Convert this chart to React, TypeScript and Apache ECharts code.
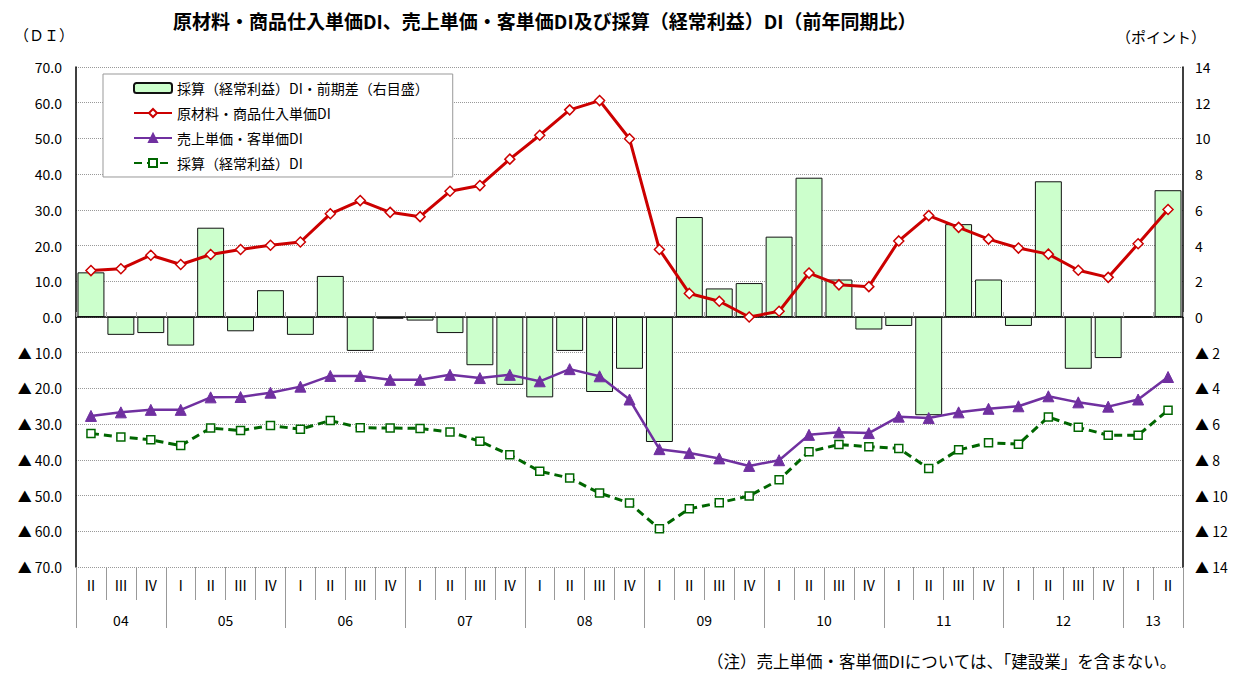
import React, { useEffect, useRef } from 'react';
import * as echarts from 'echarts';

const quarterLabels = ['Ⅱ','Ⅲ','Ⅳ','Ⅰ','Ⅱ','Ⅲ','Ⅳ','Ⅰ','Ⅱ','Ⅲ','Ⅳ','Ⅰ','Ⅱ','Ⅲ','Ⅳ','Ⅰ','Ⅱ','Ⅲ','Ⅳ','Ⅰ','Ⅱ','Ⅲ','Ⅳ','Ⅰ','Ⅱ','Ⅲ','Ⅳ','Ⅰ','Ⅱ','Ⅲ','Ⅳ','Ⅰ','Ⅱ','Ⅲ','Ⅳ','Ⅰ','Ⅱ'];
const yearLabels = ['04','05','06','07','08','09','10','11','12','13'];
const quartersPerYear = [3,4,4,4,4,4,4,4,4,2];

const rawMaterial = [13.0,13.5,17.3,14.7,17.5,18.9,20.1,21.0,28.9,32.6,29.3,28.1,35.2,36.8,44.2,50.9,58.0,60.6,49.9,18.9,6.6,4.4,0.0,1.6,12.3,9.0,8.5,21.3,28.4,25.1,21.8,19.3,17.6,13.1,11.1,20.5,30.1];
const salesPrice = [-27.7,-26.7,-26.0,-26.0,-22.5,-22.4,-21.2,-19.5,-16.5,-16.5,-17.6,-17.6,-16.2,-17.1,-16.2,-18.0,-14.6,-16.6,-23.1,-37.0,-38.1,-39.6,-41.7,-40.1,-33.0,-32.3,-32.5,-27.9,-28.3,-26.7,-25.7,-25.0,-22.2,-23.9,-25.1,-23.1,-16.8];
const profit = [-32.6,-33.6,-34.4,-36.0,-31.1,-31.8,-30.4,-31.4,-29.0,-31.0,-31.1,-31.2,-32.2,-34.8,-38.6,-43.2,-45.1,-49.3,-52.1,-59.3,-53.7,-52.0,-50.1,-45.6,-37.7,-35.7,-36.3,-36.8,-42.4,-37.2,-35.2,-35.6,-28.0,-30.9,-33.1,-33.1,-26.1];
const profitDiff = [2.5,-1.0,-0.9,-1.6,5.0,-0.8,1.5,-1.0,2.3,-1.9,-0.1,-0.2,-0.9,-2.7,-3.8,-4.5,-1.9,-4.2,-2.9,-7.0,5.6,1.6,1.9,4.5,7.8,2.1,-0.7,-0.5,-5.5,5.2,2.1,-0.5,7.6,-2.9,-2.3,0,7.1];

const seriesNames = [
  '採算（経常利益）DI・前期差（右目盛）',
  '原材料・商品仕入単価DI',
  '売上単価・客単価DI',
  '採算（経常利益）DI',
];

const FONT = "'Noto Sans CJK JP', 'Noto Sans', sans-serif";

export default function App() {
  const ref = useRef<HTMLDivElement>(null);
  useEffect(() => {
    if (!ref.current) return;
    const chart = echarts.init(ref.current, null, { renderer: 'svg' });

    const nHalf = quarterLabels.length * 2 + 1;
    const halfData: string[] = [];
    for (let i = 0; i < nHalf; i++) halfData.push('h' + i);
    const yearLabelAt: Record<number, string> = {};
    const yearBoundary = new Set<number>();
    let start = 0;
    yearLabels.forEach((y, k) => {
      const end = start + quartersPerYear[k];
      yearLabelAt[start + end] = y;
      yearBoundary.add(2 * start);
      yearBoundary.add(2 * end);
      start = end;
    });

    const fmtLeft = (v: number) => (v < 0 ? '▲ ' + Math.abs(v).toFixed(1) : v.toFixed(1));
    const fmtRight = (v: number) => (v < 0 ? '▲ ' + Math.abs(v) : String(v));

    const option: any = {
      animation: false,
      backgroundColor: '#fff',
      textStyle: { fontFamily: FONT },
      title: {
        text: '原材料・商品仕入単価DI、売上単価・客単価DI及び採算（経常利益）DI（前年同期比）',
        left: 168,
        top: 6,
        textStyle: { fontSize: 19, fontWeight: 'bold', color: '#000', fontFamily: FONT },
      },
      graphic: [
        { type: 'text', left: 14, top: 27, style: { text: '（ＤＩ）', fontSize: 15, fill: '#000', fontFamily: FONT } },
        { type: 'text', left: 1116, top: 29, style: { text: '（ポイント）', fontSize: 15, fill: '#000', fontFamily: FONT } },
        { type: 'text', right: 66, top: 653, style: { text: '（注）売上単価・客単価DIについては、「建設業」を含まない。', fontSize: 16.5, fill: '#000', fontFamily: FONT } },
      ],
      legend: {
        orient: 'vertical',
        left: 103,
        top: 74,
        padding: [7, 24, 7, 30],
        itemGap: 11,
        itemWidth: 38,
        itemHeight: 10,
        backgroundColor: '#fff',
        borderColor: '#999',
        borderWidth: 1,
        textStyle: { fontSize: 14, color: '#000', fontFamily: FONT },
        data: seriesNames,
      },
      grid: { left: 76, right: 60, top: 67, bottom: 107, containLabel: false },
      xAxis: [
        {
          type: 'category',
          data: quarterLabels,
          position: 'bottom',
          boundaryGap: true,
          axisLine: { show: false, onZero: false },
          axisTick: { show: true, length: 33, lineStyle: { color: '#999' } },
          axisLabel: { interval: 0, margin: 11, fontSize: 14, color: '#000', fontFamily: FONT },
          splitLine: { show: false },
        },
        {
          type: 'category',
          data: halfData,
          position: 'bottom',
          boundaryGap: false,
          axisLine: { show: false, onZero: false },
          axisTick: { show: true, length: 61, interval: (idx: number) => yearBoundary.has(idx), lineStyle: { color: '#999' } },
          axisLabel: {
            interval: (idx: number) => yearLabelAt[idx] !== undefined,
            formatter: (_v: string, idx: number) => yearLabelAt[idx] || '',
            margin: 46,
            fontSize: 14,
            color: '#000',
            fontFamily: FONT,
          },
          splitLine: { show: false },
        },
        {
          type: 'category',
          data: quarterLabels,
          position: 'bottom',
          boundaryGap: true,
          axisLine: { show: true, onZero: true, onZeroAxisIndex: 0, lineStyle: { color: '#000', width: 1.5 } },
          axisTick: { show: true, inside: true, length: 5, lineStyle: { color: '#aaa' } },
          axisLabel: { show: false },
          splitLine: { show: false },
        },
      ],
      yAxis: [
        {
          type: 'value',
          min: -70,
          max: 70,
          interval: 10,
          axisLine: { show: true, lineStyle: { color: '#000', width: 1.5 } },
          axisTick: { show: false },
          axisLabel: { formatter: fmtLeft, margin: 14, fontSize: 14, color: '#000', fontFamily: FONT },
          splitLine: { show: true, lineStyle: { type: 'dotted', color: '#999', width: 1 } },
        },
        {
          type: 'value',
          position: 'right',
          min: -14,
          max: 14,
          interval: 2,
          axisLine: { show: true, lineStyle: { color: '#000', width: 1.5 } },
          axisTick: { show: false },
          axisLabel: { formatter: fmtRight, margin: 12, fontSize: 14, color: '#000', fontFamily: FONT },
          splitLine: { show: false },
        },
      ],
      series: [
        {
          name: seriesNames[0],
          type: 'bar',
          xAxisIndex: 0,
          yAxisIndex: 1,
          data: profitDiff,
          barWidth: '90%',
          itemStyle: { color: '#CCFFCC', borderColor: '#111', borderWidth: 1 },
          z: 1,
        },
        {
          name: seriesNames[1],
          type: 'line',
          xAxisIndex: 0,
          yAxisIndex: 0,
          data: rawMaterial,
          symbol: 'diamond',
          symbolSize: 10,
          lineStyle: { color: '#CC0000', width: 3 },
          itemStyle: { color: '#fff', borderColor: '#CC0000', borderWidth: 1.5 },
          z: 5,
        },
        {
          name: seriesNames[2],
          type: 'line',
          xAxisIndex: 0,
          yAxisIndex: 0,
          data: salesPrice,
          symbol: 'triangle',
          symbolSize: 11,
          lineStyle: { color: '#7030A0', width: 2.5 },
          itemStyle: { color: '#7030A0', borderColor: '#7030A0', borderWidth: 1 },
          z: 4,
        },
        {
          name: seriesNames[3],
          type: 'line',
          xAxisIndex: 0,
          yAxisIndex: 0,
          data: profit,
          symbol: 'rect',
          symbolSize: 8,
          lineStyle: { color: '#006600', width: 3, type: [8, 5] },
          itemStyle: { color: '#fff', borderColor: '#006600', borderWidth: 1.5 },
          z: 3,
        },
      ],
    };
    chart.setOption(option);
    return () => chart.dispose();
  }, []);

  return <div ref={ref} style={{ position: 'absolute', left: 0, top: 0, width: 1243, height: 674 }} />;
}
